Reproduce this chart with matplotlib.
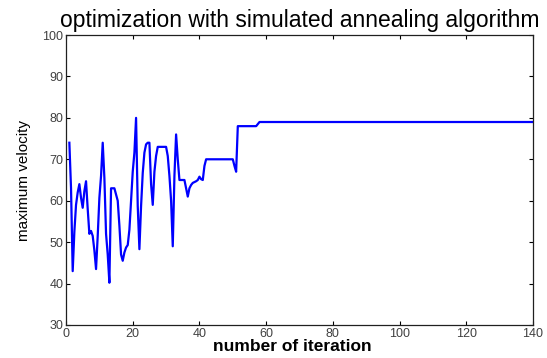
import numpy as np
import matplotlib
matplotlib.use("Agg")
import matplotlib.pyplot as plt

iteration = list(np.arange(1, 58.5, 0.5)) + [140]
velocity = [74, 63, 43, 52.5, 59, 62, 64, 60.7, 58.3, 62.3,
            64.7, 58, 52, 52.7, 51.5, 48, 43.5, 51.5, 60.7, 66,
            74, 65.5, 52, 47, 40.2, 63, 63, 63, 61.5, 60,
            54, 47, 45.5, 47.5, 48.7, 49.3, 53, 60, 67, 71.6,
            80, 58.7, 48.3, 58.7, 66.7, 71.6, 73.6, 74, 74, 64,
            59, 67, 70.8, 73, 73, 73, 73, 73, 73, 70.8,
            66, 60, 49, 66, 76, 70, 65, 65, 65, 65,
            63, 61, 63, 63.8, 64.3, 64.5, 64.7, 65, 65.8, 65.2,
            65, 68.4, 70, 70, 70, 70, 70, 70, 70, 70,
            70, 70, 70, 70, 70, 70, 70, 70, 70, 68.4,
            67, 78, 78, 78, 78, 78, 78, 78, 78, 78,
            78, 78, 78, 78.5, 79,
            79]

plt.rcParams['font.family'] = ['Liberation Sans', 'DejaVu Sans']

fig = plt.figure(figsize=(5.47, 3.58), dpi=100)
ax = fig.add_axes([0.1207, 0.0922, 0.8537, 0.81])

ax.plot(iteration, velocity, color='#0000ff', lw=1.6)

ax.set_xlim(0, 140)
ax.set_ylim(30, 100)
ax.set_xticks(np.arange(0, 141, 20))
ax.set_yticks(np.arange(30, 101, 10))
ax.tick_params(direction='in', length=3, labelsize=9, labelcolor='#404040',
               width=0.8, top=True, right=True, labeltop=False, labelright=False,
               pad=2)
for s in ax.spines.values():
    s.set_linewidth(0.9)
    s.set_color('#202020')

ax.set_title('optimization with simulated annealing algorithm', fontsize=16.5, pad=6)
ax.set_xlabel('number of iteration', fontsize=12.5, fontweight='bold')
ax.xaxis.set_label_coords(0.484, -0.05)
ax.set_ylabel('maximum velocity', fontsize=11, labelpad=8)

fig.savefig('out.png', dpi=100)
